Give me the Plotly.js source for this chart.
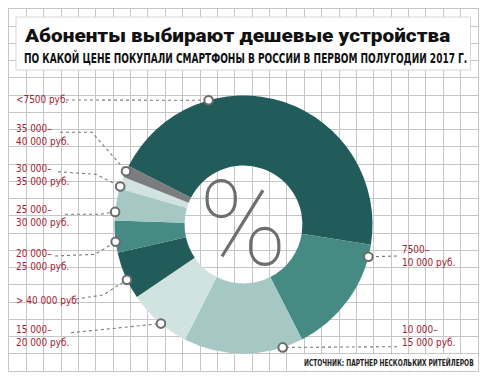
<!DOCTYPE html>
<html><head><meta charset="utf-8">
<script src="https://cdn.plot.ly/plotly-3.0.1.min.js"></script>
<style>html,body{margin:0;padding:0;background:#fff}#chart{width:487px;height:380px}</style>
</head><body><div id="chart"></div>
<script>
// ---- data ----
const categories = ['<7500 руб.', '7500–10 000 руб.', '10 000–15 000 руб.', '15 000–20 000 руб.',
  '> 40 000 руб.', '20 000–25 000 руб.', '25 000–30 000 руб.', '30 000–35 000 руб.', '35 000–40 000 руб.'];
const shares = [45, 15, 15, 8, 6, 4, 4, 1.5, 1.5];
const labelLines = [['<7500 руб.'], ['7500–', '10 000 руб.'], ['10 000–', '15 000 руб.'], ['15 000–', '20 000 руб.'],
  ['> 40 000 руб.'], ['20 000–', '25 000 руб.'], ['25 000–', '30 000 руб.'], ['30 000–', '35 000 руб.'], ['35 000–', '40 000 руб.']];
const titleText = 'Абоненты выбирают дешевые устройства';
const subtitleText = 'ПО КАКОЙ ЦЕНЕ ПОКУПАЛИ СМАРТФОНЫ В РОССИИ В ПЕРВОМ ПОЛУГОДИИ 2017 Г.';
const sourceText = 'ИСТОЧНИК: ПАРТНЕР НЕСКОЛЬКИХ РИТЕЙЛЕРОВ';

// ---- styling / layout config ----
const sliceColors = ['#215b5a', '#468a84', '#a6c8c4', '#d1e3e0', '#215b5a', '#468a84', '#a6c8c4', '#d1e3e0', '#7b7c7e'];
const W = 487, H = 380, CX = 243.5, CY = 224.5, R = 129;
const px = x => x / W, py = y => 1 - y / H;
// callout: marker angle (deg, math), label first-line center (px), leader elbow points (px)
const callouts = [
  {a: 105.7, lx: 14.5, ly: 99.5, pts: [[66, 100]]},
  {a: -14.5, lx: 401, ly: 249.5, pts: [[397, 256]]},
  {a: -72.3, lx: 401, ly: 329.5, pts: [[397, 346.7]]},
  {a: 230.2, lx: 14.5, ly: 329.5, pts: [[71, 332.7]]},
  {a: 205.4, lx: 14.5, ly: 300, pts: [[76, 299], [103, 295]]},
  {a: 187.7, lx: 14.5, ly: 253.5, pts: [[55, 256], [95, 254.3]]},
  {a: 174.4, lx: 14.5, ly: 209.5, pts: [[65, 214.3], [100, 214.3]]},
  {a: 162.9, lx: 14.5, ly: 169, pts: [[58, 171.7], [96, 174.3]]},
  {a: 155.6, lx: 14.5, ly: 128.5, pts: [[60, 132.3], [92, 132.3]]}
];
const labelColor = '#a51b31';
const condFamily = 'DejaVu Sans Condensed, DejaVu Sans, sans-serif';
const labelFont = {family: condFamily, size: 11, color: labelColor};
const lineGap = 12.7;

const shapes = [];
const annotations = [];
const labelFit = [];
const singleFit = [];

// title box
shapes.push({type: 'rect', xref: 'paper', yref: 'paper', x0: px(16), x1: px(470.5), y0: py(17), y1: py(70),
  fillcolor: '#fff', line: {color: '#d6d6d6', width: 1}, layer: 'above'});
// source box
shapes.push({type: 'rect', xref: 'paper', yref: 'paper', x0: px(298), x1: px(477.5), y0: py(354.5), y1: py(370.5),
  fillcolor: '#fff', line: {width: 0}, layer: 'above'});

// leader lines
const markerPos = callouts.map(c => {
  const r = c.a * Math.PI / 180;
  return [CX + R * Math.cos(r), CY - R * Math.sin(r)];
});
callouts.forEach((c, i) => {
  const all = c.pts.concat([markerPos[i]]);
  const d = all.map((p, k) => (k ? 'L' : 'M') + px(p[0]).toFixed(5) + ',' + py(p[1]).toFixed(5)).join(' ');
  shapes.push({type: 'path', xref: 'paper', yref: 'paper', path: d, line: {color: '#7a7a7a', width: 1.1, dash: 'dot'}, layer: 'above'});
});
// callout circles
const mr = 4.3;
markerPos.forEach(p => {
  shapes.push({type: 'circle', xref: 'paper', yref: 'paper', x0: px(p[0] - mr), x1: px(p[0] + mr),
    y0: py(p[1] + mr), y1: py(p[1] - mr), fillcolor: '#fff', line: {color: '#6b6c6e', width: 2}, layer: 'above'});
});
// labels
callouts.forEach((c, i) => {
  const n = labelLines[i].length;
  labelFit.push({idx: annotations.length, factor: 0.9});
  annotations.push({xref: 'paper', yref: 'paper', x: px(c.lx), y: py(c.ly + (n - 1) * 6.5), text: labelLines[i].join('<br>'),
    showarrow: false, xanchor: 'left', yanchor: 'middle', align: 'left', font: labelFont, borderpad: 0});
});
// titles
singleFit.push({idx: annotations.length, width: 425});
annotations.push({xref: 'paper', yref: 'paper', x: px(22.5), y: py(36), text: titleText, showarrow: false,
  xanchor: 'left', yanchor: 'middle', align: 'left', borderpad: 0,
  font: {family: 'Roboto, DejaVu Sans, sans-serif', size: 18.7, color: '#111', weight: 900}});
singleFit.push({idx: annotations.length, width: 444});
annotations.push({xref: 'paper', yref: 'paper', x: px(22.5), y: py(58.5), text: subtitleText, showarrow: false,
  xanchor: 'left', yanchor: 'middle', align: 'left', borderpad: 0,
  font: {family: condFamily, size: 13.5, color: '#111', weight: 700}});
singleFit.push({idx: annotations.length, width: 170});
annotations.push({xref: 'paper', yref: 'paper', x: px(303), y: py(362.5), text: sourceText, showarrow: false,
  xanchor: 'left', yanchor: 'middle', align: 'left', borderpad: 0,
  font: {family: condFamily, size: 9.5, color: '#222', weight: 700}});
// percent sign in the hole
annotations.push({xref: 'paper', yref: 'paper', x: px(243), y: py(225), text: '%', showarrow: false,
  xanchor: 'center', yanchor: 'middle', borderpad: 0,
  font: {family: 'Roboto, Lato, sans-serif', size: 118, color: '#6d6e70', weight: 100}});

const data = [
  {type: 'scatter', x: [], y: [], xaxis: 'x', yaxis: 'y', showlegend: false, hoverinfo: 'skip'},
  {type: 'pie', labels: categories, values: shares, sort: false, direction: 'clockwise', rotation: -63,
    hole: 0.457, marker: {colors: sliceColors, line: {width: 0}}, textinfo: 'none', hoverinfo: 'label+percent',
    showlegend: false,
    domain: {x: [px(CX - R), px(CX + R)], y: [py(CY + R), py(CY - R)]}}
];
const gridCol = '#c6c6c6';
const layout = {
  width: W, height: H, margin: {l: 0, r: 0, t: 0, b: 0}, paper_bgcolor: '#fff', plot_bgcolor: 'rgba(0,0,0,0)',
  showlegend: false,
  xaxis: {domain: [9 / W, 478 / W], range: [0, 27], dtick: 1, tick0: 0, showgrid: true, gridcolor: gridCol, gridwidth: 1,
    zeroline: false, showline: true, mirror: true, linecolor: gridCol, linewidth: 1, showticklabels: false, ticks: '', fixedrange: true},
  yaxis: {domain: [1 - 371 / H, 1 - 9 / H], range: [0, 21], dtick: 1, tick0: 0, showgrid: true, gridcolor: gridCol, gridwidth: 1,
    zeroline: false, showline: true, mirror: true, linecolor: gridCol, linewidth: 1, showticklabels: false, ticks: '', fixedrange: true},
  shapes: shapes, annotations: annotations
};
const getAnnText = idx => {
  const g = document.querySelector('.annotation[data-index="' + idx + '"]');
  return g ? [g, g.querySelector('text.annotation-text')] : [null, null];
};
Plotly.newPlot('chart', data, layout, {displayModeBar: false, staticPlot: true}).then(() => {
  // labels: slight horizontal condensing and tighter line spacing
  labelFit.forEach(c => {
    const [g, txt] = getAnnText(c.idx);
    if (!txt) return;
    const lines = txt.querySelectorAll('tspan.line');
    const els = lines.length ? Array.from(lines) : [txt];
    els.forEach((el, i) => {
      const nat = el.getComputedTextLength();
      el.setAttribute('textLength', (nat * c.factor).toFixed(2));
      el.setAttribute('lengthAdjust', 'spacingAndGlyphs');
      if (lines.length && i > 0) el.setAttribute('dy', (i * lineGap).toFixed(2) + 'px');
    });
  });
  // single-line texts: size the font so the natural width equals the target, then restore cap height
  singleFit.forEach(c => {
    const [g, txt] = getAnnText(c.idx);
    if (!txt) return;
    const s0 = parseFloat(getComputedStyle(txt).fontSize);
    const nat = txt.getComputedTextLength();
    const s1 = s0 * c.width / nat;
    txt.style.fontSize = s1.toFixed(3) + 'px';
    const yb = parseFloat(txt.getAttribute('y')) || 0;
    const k = s0 / s1;
    txt.setAttribute('transform', 'translate(0 ' + yb + ') scale(1 ' + k.toFixed(4) + ') translate(0 ' + (-yb) + ')');
    const bg = g.querySelector('rect.bg');
    if (bg) bg.setAttribute('width', c.width.toFixed(2));
  });
});
</script></body></html>
